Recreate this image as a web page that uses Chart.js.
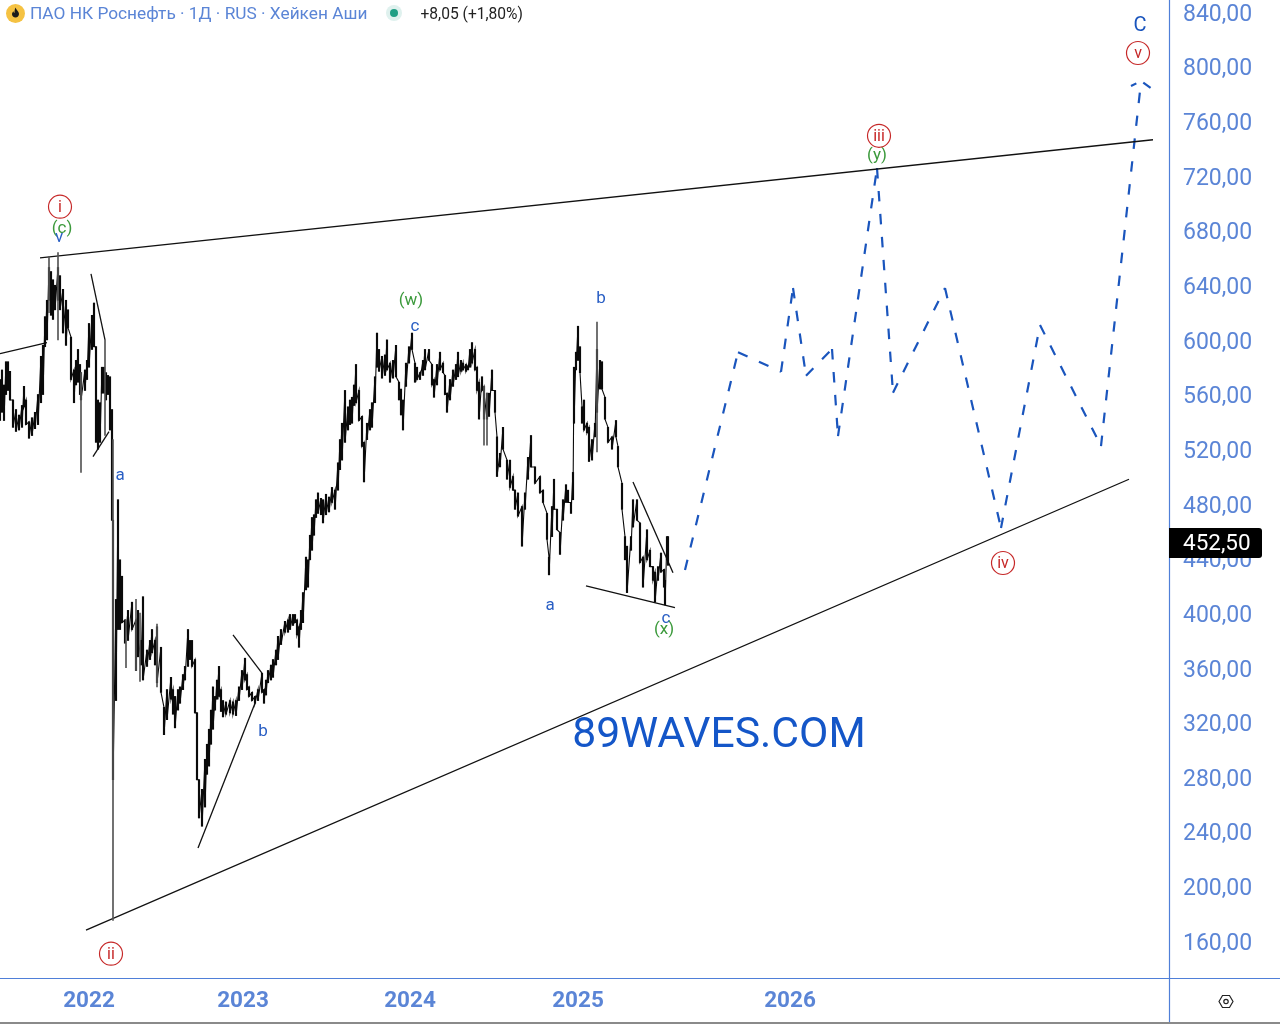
<!DOCTYPE html>
<html lang="ru">
<head>
<meta charset="utf-8">
<title>ПАО НК Роснефть</title>
<script src="https://cdn.jsdelivr.net/npm/chart.js@4"></script>
<style>
  html, body { margin: 0; padding: 0; background: #fff; overflow: hidden; }
  #wrap { position: relative; width: 1280px; height: 1024px; }
  canvas { position: absolute; left: 0; top: 0; }
  #head { position: absolute; left: 6px; top: 3px; height: 20px; display: flex; align-items: center; font-family: Roboto, sans-serif; }
  #head .title { margin-left: 5px; font-size: 17.3px; color: #5b85d6; white-space: nowrap; }
  #head .dot { margin-left: 23px; width: 8px; height: 8px; border-radius: 50%; background: #1f9e84; box-shadow: 0 0 0 4px #dff1ee; }
  #head .chg { margin-left: 22px; margin-top: 1px; font-size: 15.6px; color: #222; white-space: nowrap; }
  #edge { position: absolute; left: 0; top: 1022px; width: 1280px; height: 2px; background: #8a8a8a; }
</style>
</head>
<body>
<div id="wrap">
  <canvas id="chart" width="1280" height="1024"></canvas>
  <div id="head">
    <svg width="19" height="19" viewBox="0 0 19 19"><circle cx="9.5" cy="9.5" r="9.5" fill="#f5c242"/><path d="M9.6 3.5c.6 2.6 3.4 3.6 3.4 6.6 0 1.9-1.5 3.4-3.5 3.4S6 12 6 10.200c0-1.400.8-2.300 1.500-3 .1 1 .5 1.500 1 1.800.1-1.900 0-3.700 1.100-5.500z" fill="#1b1b1b"/></svg>
    <span class="title">ПАО НК Роснефть · 1Д · RUS · Хейкен Аши</span>
    <span class="dot"></span>
    <span class="chg">+8,05 (+1,80%)</span>
  </div>
  <div id="edge"></div>
</div>
<script>
const yearTicks = [89, 243, 410, 578, 790];
const yearLabels = ['2022', '2023', '2024', '2025', '2026'];
const priceTicks = [160, 200, 240, 280, 320, 360, 400, 440, 480, 520, 560, 600, 640, 680, 720, 760, 800, 840];
const lastPrice = 452.5;

const barX = [0,2,4,6,8,10,13,16,19,22,24,26,29,32,35,38,41,43,45,47,49,51,53,55,58,60,63,66,68,71,74,76,78,80,81,85,87,89,92,94,96,98,100,102,104,106,108,110,112,113,
  116,118,120,122,125,128,132,136,138,141,143,147,150,152,155,157,161,164,167,171,173,175,178,180,183,185,188,190,192,195,197,199,202,205,207,209,211,213,215,217,219,221,223,226,230,233,236,239,242,245,247,249,252,255,258,262,264,266,268,271,273,276,278,281,285,288,290,293,295,297,299,301,303,306,308,310,312,314,316,318,321,323,326,329,332,335,338,340,342,345,348,350,352,354,356,359,362,364,367,370,372,375,377,379,382,385,387,390,393,396,399,401,403,406,409,412,415,417,420,423,425,429,432,434,437,440,443,445,447,450,453,456,458,461,463,466,468,470,472,475,477,479,482,484,487,489,492,495,497,500,503,507,510,513,515,518,522,525,528,531,535,540,543,547,549,552,554,557,560,563,566,568,571,573,574,576,578,580,582,584,587,589,592,595,597,600,602,605,608,612,616,618,622,625,627,631,633,637,640,643,647,650,653,655,658,661,664,665,667,668];
const barHigh = [571,578,567,584,584,577,556,549,545,552,566,556,540,543,547,560,588,596,617,629,653,650,644,640,653,647,637,629,622,602,578,585,593,582,576,578,585,612,618,627,595,556,554,580,580,576,574,573,549,468,
  410,483,439,427,395,402,408,395,402,380,412,373,380,388,380,390,375,331,344,353,344,339,344,346,355,361,388,380,380,366,327,278,271,293,304,315,329,346,339,351,361,344,336,335,336,335,336,346,358,367,355,346,342,339,344,356,344,351,358,362,366,373,383,388,394,395,399,399,399,395,390,402,415,441,439,457,470,472,483,488,484,483,487,485,492,490,510,527,539,563,551,556,558,567,582,563,544,525,539,549,554,573,605,593,588,589,600,583,585,596,569,564,556,583,595,605,583,580,576,585,593,593,582,571,582,591,583,574,561,571,578,582,591,585,583,582,581,593,598,593,580,569,573,566,561,561,578,563,529,517,536,512,512,500,490,488,478,488,514,530,507,500,490,473,441,478,498,476,459,483,494,490,481,503,580,591,610,595,551,556,539,536,527,539,593,585,584,558,536,529,541,522,495,456,449,456,483,483,466,441,461,446,434,430,434,444,432,424,456,456];
const barLow = [541,547,541,560,563,556,536,533,534,536,551,538,528,530,535,538,554,560,595,600,629,618,615,622,629,622,605,596,609,571,554,567,569,560,556,563,571,580,593,595,525,520,525,561,561,556,560,534,468,278,
  336,388,388,393,378,380,388,358,368,362,351,361,366,371,362,349,342,311,322,337,326,316,329,334,344,351,361,366,361,327,278,250,244,258,282,288,304,315,329,337,339,328,324,326,327,326,325,336,344,351,344,339,336,334,336,342,334,340,349,351,353,362,366,377,386,386,388,391,393,384,375,388,393,417,419,439,446,457,470,473,472,466,472,474,481,476,490,505,512,525,534,538,539,552,554,541,522,496,527,534,536,554,580,577,572,574,578,569,572,573,556,545,534,566,583,593,569,571,571,574,578,585,567,558,567,578,576,560,547,556,566,571,573,577,578,577,578,580,583,578,563,542,563,542,542,544,563,547,500,507,520,498,492,490,476,471,449,476,498,507,495,488,481,454,428,456,476,461,443,468,481,481,473,483,539,578,585,576,539,534,532,511,512,529,547,564,564,542,525,520,529,507,476,439,415,446,463,468,437,419,439,434,424,408,424,430,419,406,439,435];

// long thin wicks that stick out of the bodies
const wickX = [49, 58, 81, 105, 113, 126, 136, 140, 157, 484, 487, 597];
const wickHigh = [661, 664, 576, 600, 527, 395, 410, 400, 392, 566, 561, 613];
const wickLow = [620, 600, 503, 530, 175, 360, 358, 350, 346, 523, 523, 518];

// drawn lines, pairs of [session, price]
const upperX = [40, 1153];
const upperY = [660, 746.5];
const lowerX = [86, 1129];
const lowerY = [168, 498];
const leftStubX = [0, 47];
const leftStubY = [590, 598];
const topWedgeX = [91, 105];
const topWedgeY = [648.4, 600];
const lowWedgeX = [93, 109];
const lowWedgeY = [514.5, 532.8];
const bFallX = [233, 262];
const bFallY = [384, 356];
const bRiseX = [198, 255];
const bRiseY = [228, 334];
const cFallX = [633, 673];
const cFallY = [496, 429.6];
const cBaseX = [586, 675];
const cBaseY = [420, 404];

// forecast path
const forecastX = [685, 738, 781, 793, 806, 832, 838, 877, 893, 945, 1001, 1040, 1101, 1141];
const forecastY = [431.6, 591, 576.6, 638, 573.8, 593.3, 529.6, 725.8, 561.3, 638, 462.3, 610.9, 522.3, 788.8];
const arrowX = [1131, 1141, 1152];
const arrowY = [785.8, 789.5, 783.7];

// wave labels
const labelText = ['(c)', 'v', 'a', 'b', '(w)', 'c', 'b', 'a', 'c', '(x)', '(y)', 'C'];
const labelX = [62, 59, 120, 263, 411, 415, 601, 550, 666, 664, 877, 1140];
const labelY = [682.7, 676, 502, 314.6, 630, 611, 631.6, 406.9, 397.4, 389.3, 736, 831];
const labelKind = ['g', 'b', 'b', 'b', 'g', 'b', 'b', 'b', 'b', 'g', 'g', 'B'];
const circleText = ['i', 'ii', 'iii', 'iv', 'v'];
const circleX = [60, 111, 879, 1003, 1138];
const circleY = [697.5, 150.7, 749.4, 436.7, 810];

const AXIS_BLUE = '#5b85d6';
const LINE_BLUE = '#1a55bd';
const FONT = 'Roboto, sans-serif';

const toPts = (xs, ys) => xs.map((x, i) => ({ x, y: ys[i] }));

function thinLine(xs, ys) {
  return { type: 'line', data: toPts(xs, ys), borderColor: '#111', borderWidth: 1.3, pointRadius: 0, tension: 0 };
}

// every leg is its own line so the dash pattern restarts at each turn
function forecastLegs() {
  return forecastX.slice(1).map((x, i) => ({
    type: 'line',
    data: toPts([forecastX[i], x], [forecastY[i], forecastY[i + 1]]),
    borderColor: LINE_BLUE, borderWidth: 2.2, borderDash: [10.5, 12.5], pointRadius: 0, tension: 0,
  }));
}

const annotations = {
  id: 'annotations',
  afterDraw(chart) {
    const { ctx, scales: { x, y } } = chart;
    ctx.save();

    // axis frame runs past the plot to the window edges
    ctx.strokeStyle = '#4f7fd8';
    ctx.lineWidth = 1.2;
    ctx.beginPath();
    ctx.moveTo(0, y.bottom + .5);
    ctx.lineTo(1280, y.bottom + .5);
    ctx.moveTo(x.right + .5, 0);
    ctx.lineTo(x.right + .5, 1023);
    ctx.stroke();

    ctx.textAlign = 'center';
    ctx.textBaseline = 'middle';
    const colors = { g: '#3c9a3c', b: '#2a5fc4', B: '#1a55bd' };
    labelText.forEach((t, i) => {
      ctx.fillStyle = colors[labelKind[i]];
      ctx.font = (labelKind[i] === 'B' ? 20 : 17) + 'px ' + FONT;
      ctx.fillText(t, x.getPixelForValue(labelX[i]), y.getPixelForValue(labelY[i]) + 2);
    });

    circleText.forEach((t, i) => {
      const cx = x.getPixelForValue(circleX[i]);
      const cy = y.getPixelForValue(circleY[i]);
      ctx.strokeStyle = '#c62828';
      ctx.lineWidth = 1.2;
      ctx.beginPath();
      ctx.arc(cx, cy, 11.5, 0, Math.PI * 2);
      ctx.stroke();
      ctx.fillStyle = '#c62828';
      ctx.font = '16px ' + FONT;
      ctx.fillText(t, cx, cy + 1);
    });

    ctx.fillStyle = '#1456c8';
    ctx.font = '42.7px ' + FONT;
    ctx.fillText('89WAVES.COM', x.getPixelForValue(719), y.getPixelForValue(313) + 4);

    // last price tag
    const tagY = y.getPixelForValue(lastPrice) + 1.5;
    ctx.fillStyle = '#000';
    ctx.beginPath();
    ctx.roundRect(x.right, tagY - 15, 93, 30, [0, 3, 3, 0]);
    ctx.fill();
    ctx.fillStyle = '#fff';
    ctx.font = '22.5px ' + FONT;
    ctx.textAlign = 'left';
    ctx.fillText('452,50', x.right + 14, tagY + 1);

    // settings hexagon
    const hx = 1226, hy = 1001.5;
    ctx.strokeStyle = '#222';
    ctx.lineWidth = 1.2;
    ctx.beginPath();
    [[-7, 0], [-3.5, -6], [3.5, -6], [7, 0], [3.5, 6], [-3.5, 6]].forEach(([dx, dy], i) => {
      if (i) ctx.lineTo(hx + dx, hy + dy); else ctx.moveTo(hx + dx, hy + dy);
    });
    ctx.closePath();
    ctx.stroke();
    ctx.beginPath();
    ctx.arc(hx, hy, 2.2, 0, Math.PI * 2);
    ctx.stroke();
    ctx.restore();
  },
};

new Chart(document.getElementById('chart'), {
  type: 'bar',
  plugins: [annotations],
  data: {
    datasets: [
      { type: 'bar', grouped: false, data: wickX.map((x, i) => ({ x, y: [wickLow[i], wickHigh[i]] })), backgroundColor: '#555', barThickness: 1 },
      { type: 'bar', grouped: false, data: barX.map((x, i) => ({ x, y: [barLow[i], barHigh[i]] })), backgroundColor: '#0a0a0a', barThickness: 1.5 },
      // high/low zigzag fills the gaps between the sampled sessions
      { type: 'line', data: barX.flatMap((x, i) => [{ x, y: barHigh[i] }, { x, y: barLow[i] }]), borderColor: '#0a0a0a', borderWidth: 1.1, pointRadius: 0, tension: 0 },
      thinLine(upperX, upperY),
      thinLine(lowerX, lowerY),
      thinLine(leftStubX, leftStubY),
      thinLine(topWedgeX, topWedgeY),
      thinLine(lowWedgeX, lowWedgeY),
      thinLine(bFallX, bFallY),
      thinLine(bRiseX, bRiseY),
      thinLine(cFallX, cFallY),
      thinLine(cBaseX, cBaseY),
      ...forecastLegs(),
      { type: 'line', data: toPts(arrowX, arrowY), borderColor: LINE_BLUE, borderWidth: 2.2, borderDash: [6, 8, 9, 2], pointRadius: 0, tension: 0 },
    ],
  },
  options: {
    responsive: false,
    animation: false,
    events: [],
    layout: { padding: 0 },
    plugins: { legend: { display: false }, tooltip: { enabled: false } },
    scales: {
      x: {
        type: 'linear', min: 0, max: 1169, offset: false,
        grid: { display: false, drawTicks: false }, border: { display: false },
        afterBuildTicks: s => { s.ticks = yearTicks.map(value => ({ value })); },
        afterFit: s => { s.height = 46; s.paddingLeft = 0; s.paddingRight = 0; },
        ticks: {
          autoSkip: false, maxRotation: 0, padding: 10, color: AXIS_BLUE,
          font: { family: 'Roboto', size: 22.5, weight: 'bold' },
          callback: v => yearLabels[yearTicks.indexOf(v)],
        },
      },
      y: {
        type: 'linear', position: 'right', min: 132.9, max: 848.8,
        grid: { display: false, drawTicks: false }, border: { display: false },
        afterBuildTicks: s => { s.ticks = priceTicks.map(value => ({ value })); },
        afterFit: s => { s.width = 111; s.paddingTop = 0; s.paddingBottom = 0; },
        ticks: {
          autoSkip: false, padding: 14, color: AXIS_BLUE,
          // empty first line with a 6px line height pushes the digits down 3px
          font: { family: 'Roboto', size: 23, lineHeight: '6px' },
          callback: v => ['', v.toFixed(2).replace('.', ',')],
        },
      },
    },
  },
});
</script>
</body>
</html>
